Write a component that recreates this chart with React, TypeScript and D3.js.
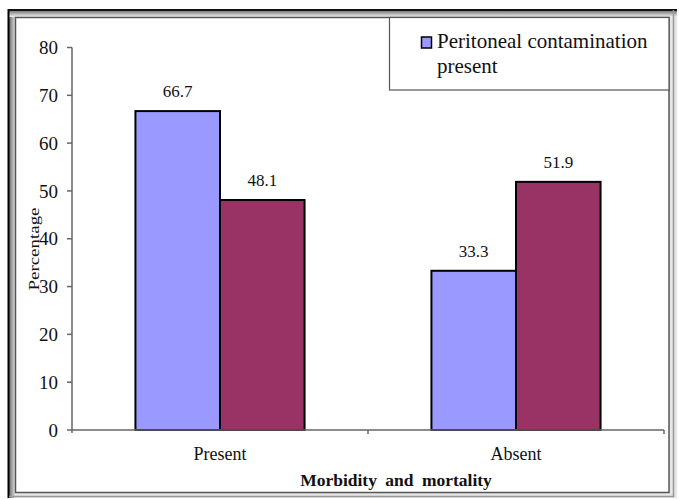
import React from "react";
import * as d3 from "d3";

const categories = ["Present", "Absent"];
const seriesNames = ["Peritoneal contamination present", "Peritoneal contamination absent"];
const seriesPresent = [66.7, 33.3];
const seriesAbsent = [48.1, 51.9];
const yTicks = [0, 10, 20, 30, 40, 50, 60, 70, 80];
const colors = ["#9999FF", "#993366"];

export default function App() {
  const W = 679, H = 500;
  const x0 = d3.scaleBand<string>().domain(categories).range([72, 664]).paddingInner(0).paddingOuter(0);
  const x1 = d3.scaleBand<string>().domain(seriesNames).range([0, x0.bandwidth()]).paddingInner(0).paddingOuter(0.75);
  const y = d3.scaleLinear().domain([0, 80]).range([430, 47.5]);
  const data = [seriesPresent, seriesAbsent];
  const font = "'Liberation Serif', 'Times New Roman', serif";

  return (
    <svg width={W} height={H} style={{ position: "absolute", left: 0, top: 0, background: "#fff" }} fontFamily={font}>
      <defs>
        <linearGradient id="gl" x1="0" x2="1" y1="0" y2="0">
          <stop offset="0" stopColor="#555" />
          <stop offset="1" stopColor="#f2f2f2" />
        </linearGradient>
        <linearGradient id="gt" x1="0" x2="0" y1="0" y2="1">
          <stop offset="0" stopColor="#555" />
          <stop offset="1" stopColor="#f2f2f2" />
        </linearGradient>
      </defs>
      {/* frame */}
      <rect x={8} y={9} width={669} height={489} fill="#e6e6e6" />
      <rect x={8} y={9} width={8} height={489} fill="url(#gl)" />
      <rect x={8} y={9} width={669} height={8} fill="url(#gt)" />
      <line x1={8.5} y1={9} x2={8.5} y2={498} stroke="#000" strokeWidth={2} />
      <line x1={8} y1={10} x2={677} y2={10} stroke="#111" strokeWidth={2} />
      <line x1={673.5} y1={10} x2={673.5} y2={497} stroke="#999" strokeWidth={1.5} />
      <line x1={9} y1={496.5} x2={674} y2={496.5} stroke="#999" strokeWidth={1.5} />
      <rect x={15.5} y={17.5} width={653.5} height={475} fill="#fff" stroke="#555" strokeWidth={1.5} />

      {/* y axis */}
      <line x1={72} y1={y(80)} x2={72} y2={433} stroke="#666" strokeWidth={1.5} />
      {yTicks.map((t) => (
        <g key={t}>
          <line x1={67} x2={72} y1={y(t)} y2={y(t)} stroke="#666" strokeWidth={1.5} />
          <text x={58} y={y(t)} dy="0.35em" textAnchor="end" fontSize={19} fill="#111">{t}</text>
        </g>
      ))}
      <text transform={`translate(39,249) rotate(-90)`} textAnchor="middle" fontSize={15} textLength={83} lengthAdjust="spacingAndGlyphs" fill="#111">Percentage</text>

      {/* bars */}
      {categories.map((c, ci) => (
        <g key={c} transform={`translate(${x0(c)},0)`}>
          {seriesNames.map((s, si) => {
            const v = data[si][ci];
            return (
              <g key={s}>
                <rect x={x1(s)} y={y(v)} width={x1.bandwidth()} height={y(0) - y(v)} fill={colors[si]} stroke="#000" strokeWidth={2} />
                <text x={(x1(s) as number) + x1.bandwidth() / 2} y={y(v) - 14} textAnchor="middle" fontSize={17} fill="#111">{v.toFixed(1)}</text>
              </g>
            );
          })}
        </g>
      ))}

      {/* x axis */}
      <line x1={72} x2={664} y1={430} y2={430} stroke="#666" strokeWidth={1.5} />
      {categories.map((c) => (
        <line key={c} x1={(x0(c) as number) + x0.bandwidth()} x2={(x0(c) as number) + x0.bandwidth()} y1={430} y2={434} stroke="#666" strokeWidth={1.5} />
      ))}
      {categories.map((c) => (
        <text key={c} x={(x0(c) as number) + x0.bandwidth() / 2} y={460} textAnchor="middle" fontSize={18} fill="#111">{c}</text>
      ))}
      <text x={396} y={486} textAnchor="middle" fontSize={17.5} fontWeight="bold" wordSpacing={4} fill="#111">Morbidity and mortality</text>

      {/* legend */}
      <rect x={389.5} y={17.5} width={279.5} height={72.5} fill="#fff" stroke="#555" strokeWidth={1.2} />
      <rect x={421.5} y={37} width={10} height={11} fill={colors[0]} stroke="#000" strokeWidth={1.5} />
      <text x={437} y={48} fontSize={21} fill="#111">Peritoneal contamination</text>
      <text x={437} y={73} fontSize={21} fill="#111">present</text>
    </svg>
  );
}
